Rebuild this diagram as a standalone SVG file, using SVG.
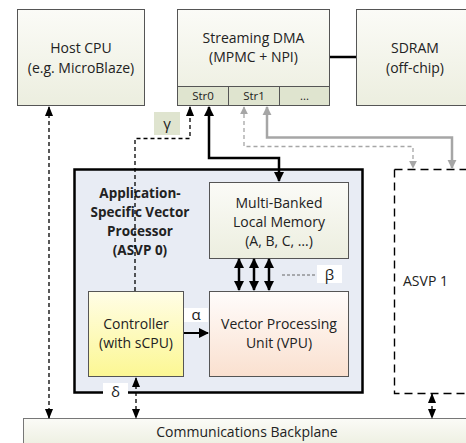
<svg xmlns="http://www.w3.org/2000/svg" width="466" height="443" viewBox="0 0 466 443">
<defs>
<linearGradient id="gGreen" x1="0" y1="0" x2="0" y2="1"><stop offset="0" stop-color="#fbfbf7"/><stop offset="1" stop-color="#eceedf"/></linearGradient>
<linearGradient id="gYellow" x1="0" y1="0" x2="0" y2="1"><stop offset="0" stop-color="#fffde6"/><stop offset="1" stop-color="#fcf793"/></linearGradient>
<linearGradient id="gPink" x1="0" y1="0" x2="0" y2="1"><stop offset="0" stop-color="#fffcfb"/><stop offset="1" stop-color="#fae0cf"/></linearGradient>
<marker id="ah" viewBox="0 0 10 8" refX="9" refY="4" markerWidth="10" markerHeight="8" markerUnits="userSpaceOnUse" orient="auto-start-reverse"><path d="M0,0 L10,4 L0,8 Z" fill="#000"/></marker>
<marker id="ahB" viewBox="0 0 10 10" refX="9" refY="5" markerWidth="10" markerHeight="14" markerUnits="userSpaceOnUse" orient="auto-start-reverse"><path d="M0,0 L10,5 L0,10 Z" fill="#000"/></marker>
<marker id="ahG" viewBox="0 0 10 10" refX="9" refY="5" markerWidth="9" markerHeight="13" markerUnits="userSpaceOnUse" orient="auto-start-reverse"><path d="M0,0 L10,5 L0,10 Z" fill="#a6a6a6"/></marker>
<marker id="ahG2" viewBox="0 0 10 10" refX="9" refY="5" markerWidth="8" markerHeight="10" markerUnits="userSpaceOnUse" orient="auto-start-reverse"><path d="M0,0 L10,5 L0,10 Z" fill="#a6a6a6"/></marker>
</defs>
<style>
text{font-family:"Open Sans","Liberation Sans",sans-serif;font-size:14px;fill:#222;text-anchor:middle}
.box{stroke:#555;stroke-width:1}
.b{font-weight:bold;font-size:13.5px}
.s{font-size:11.5px}
.g{font-size:15px}
.dash{fill:none;stroke:#000;stroke-width:1.3;stroke-dasharray:4,3}
.lbl{fill:#fff}
</style>
<rect width="466" height="443" fill="#fff"/>

<g id="host-cpu">
<rect class="box" x="17.5" y="9.5" width="127" height="96" fill="url(#gGreen)"/>
<text x="81" y="53">Host CPU</text>
<text x="81" y="73">(e.g. MicroBlaze)</text>
</g>

<g id="streaming-dma">
<rect class="box" x="177.5" y="9.5" width="152" height="96" fill="url(#gGreen)"/>
<text x="253.5" y="43">Streaming DMA</text>
<text x="253.5" y="62">(MPMC + NPI)</text>
<rect class="box" x="177.5" y="86.5" width="51" height="19" fill="#dfe4cf"/>
<rect class="box" x="228.5" y="86.5" width="51" height="19" fill="#dfe4cf"/>
<rect class="box" x="279.5" y="86.5" width="50" height="19" fill="#dfe4cf"/>
<text class="s" x="203" y="100">Str0</text>
<text class="s" x="254" y="100">Str1</text>
<text class="s" x="304.5" y="100">...</text>
</g>

<g id="sdram">
<rect class="box" x="356.5" y="9.5" width="120" height="96" fill="url(#gGreen)"/>
<text x="415" y="53">SDRAM</text>
<text x="415" y="73">(off-chip)</text>
</g>

<g id="asvp1">
<path d="M394.5,169.5 V393.5 H470" fill="none" stroke="#000" stroke-width="1.4" stroke-dasharray="8,5"/>
<path d="M394.5,169.5 H470" fill="none" stroke="#000" stroke-width="1.4" stroke-dasharray="8,5"/>
<text x="425.5" y="286">ASVP 1</text>
</g>

<g id="asvp0">
<rect x="74.5" y="169.5" width="288" height="223" fill="#e8ecf4" stroke="#000" stroke-width="2.5"/>
<text class="b" x="140" y="198">Application-</text>
<text class="b" x="140" y="217">Specific Vector</text>
<text class="b" x="140" y="236">Processor</text>
<text class="b" x="140" y="255">(ASVP 0)</text>
</g>

<g id="memory">
<rect class="box" x="209.5" y="182.5" width="139" height="76" fill="url(#gGreen)"/>
<text x="279" y="208">Multi-Banked</text>
<text x="279" y="227">Local Memory</text>
<text x="279" y="246">(A, B, C, …)</text>
</g>

<g id="controller">
<rect class="box" x="88.5" y="291.5" width="95" height="85" fill="url(#gYellow)"/>
<text x="136" y="329">Controller</text>
<text x="136" y="348">(with sCPU)</text>
</g>

<g id="vpu">
<rect class="box" x="209.5" y="291.5" width="139" height="85" fill="url(#gPink)"/>
<text x="279" y="329">Vector Processing</text>
<text x="279" y="348">Unit (VPU)</text>
</g>

<g id="backplane">
<rect x="23.5" y="418.5" width="450" height="30" fill="url(#gGreen)" stroke="#777" stroke-width="1"/>
<text x="247" y="437">Communications Backplane</text>
</g>

<g id="connectors">
<line x1="330" y1="57" x2="356" y2="57" stroke="#000" stroke-width="2.5"/>
<line class="dash" x1="49" y1="107" x2="49" y2="418" marker-start="url(#ah)" marker-end="url(#ah)"/>
<polyline class="dash" points="135,291 135,138.5 190,138.5 190,107" marker-end="url(#ah)"/>
<polyline points="209,107 209,158 279,158 279,181" fill="none" stroke="#000" stroke-width="2.5" marker-start="url(#ahB)" marker-end="url(#ahB)"/>
<polyline points="267,107 267,137.5 452,137.5 452,168" fill="none" stroke="#a6a6a6" stroke-width="2.5" marker-start="url(#ahG)" marker-end="url(#ahG)"/>
<polyline points="244,107 244,146.5 413,146.5 413,168" fill="none" stroke="#a6a6a6" stroke-width="1.3" stroke-dasharray="4,3" marker-start="url(#ahG2)" marker-end="url(#ahG2)"/>
<line x1="239" y1="259" x2="239" y2="290" stroke="#000" stroke-width="2.5" marker-start="url(#ahB)" marker-end="url(#ahB)"/>
<line x1="254" y1="259" x2="254" y2="290" stroke="#000" stroke-width="2.5" marker-start="url(#ahB)" marker-end="url(#ahB)"/>
<line x1="269" y1="259" x2="269" y2="290" stroke="#000" stroke-width="2.5" marker-start="url(#ahB)" marker-end="url(#ahB)"/>
<line x1="282" y1="275" x2="315" y2="275" stroke="#666" stroke-width="1" stroke-dasharray="3,2"/>
<line x1="184" y1="333" x2="208" y2="333" stroke="#000" stroke-width="2" marker-end="url(#ahB)"/>
<line class="dash" x1="136" y1="378" x2="136" y2="418" marker-start="url(#ah)" marker-end="url(#ah)"/>
<line x1="432" y1="394" x2="432" y2="418" stroke="#000" stroke-width="1.3" stroke-dasharray="3,3" marker-start="url(#ah)" marker-end="url(#ah)"/>
</g>

<g id="labels">
<rect x="154" y="112" width="26" height="23" fill="#dfe4cf"/>
<text class="g" x="167" y="129">γ</text>
<rect class="lbl" x="317" y="265" width="25" height="18"/>
<text class="g" x="329.5" y="280">β</text>
<rect class="lbl" x="184" y="308" width="24" height="14"/>
<text class="g" x="196" y="320">α</text>
<rect class="lbl" x="103" y="383" width="25" height="17"/>
<text class="g" x="115.5" y="397">δ</text>
</g>
</svg>
